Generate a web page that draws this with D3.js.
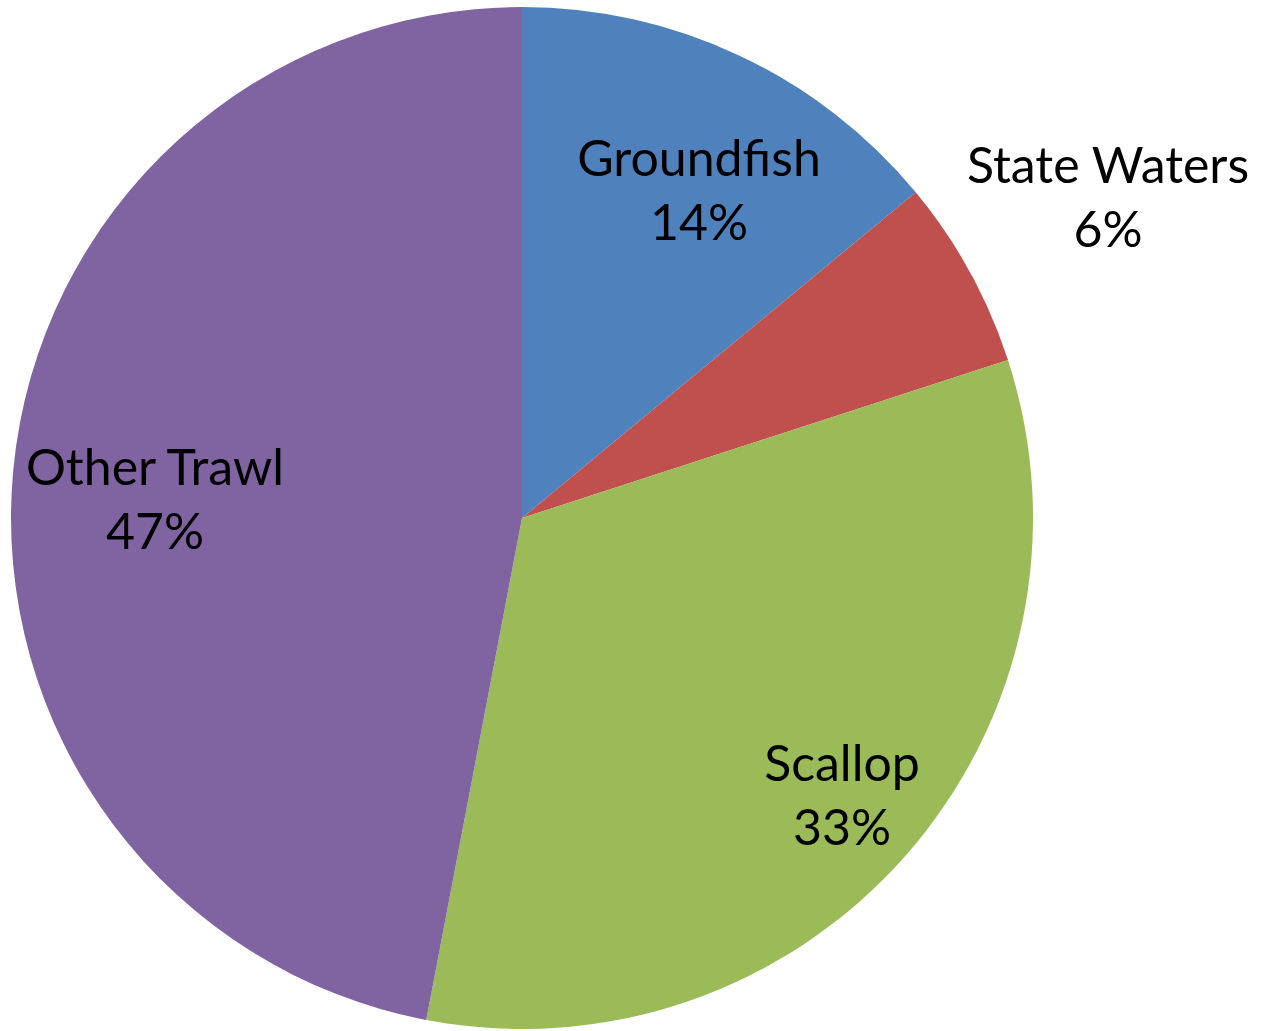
<!DOCTYPE html>
<html>
<head>
<meta charset="utf-8">
<script src="https://cdn.jsdelivr.net/npm/d3@7"></script>
<style>
  html, body { margin: 0; padding: 0; background: #fff; }
  svg { display: block; }
</style>
</head>
<body>
<svg id="chart" width="1262" height="1031"></svg>
<script>
// Share of trips by fishery
const categories = ["Groundfish", "State Waters", "Scallop", "Other Trawl"];
const shares = [14, 6, 33, 47];
const colors = ["#4F81BD", "#C0504D", "#9BBB59", "#8064A2"];

// Label anchor (centre x, first baseline y) for each slice label
const labelPos = [
  [699, 176],
  [1108, 183],
  [842, 781],
  [155, 485]
];

const svg = d3.select("#chart");
const cx = 522, cy = 518, radius = 511;

const pie = d3.pie().sort(null).value(d => d.value);
const arc = d3.arc().innerRadius(0).outerRadius(radius);

const data = categories.map((c, i) => ({ name: c, value: shares[i], color: colors[i] }));
const arcs = pie(data);

const g = svg.append("g").attr("transform", `translate(${cx},${cy})`);
g.selectAll("path")
  .data(arcs)
  .join("path")
  .attr("d", arc)
  .attr("fill", d => d.data.color);

const labels = svg.append("g")
  .attr("font-family", "Lato, 'Open Sans', sans-serif")
  .attr("font-size", 50)
  .attr("fill", "#000")
  .attr("text-anchor", "middle");

labels.selectAll("text")
  .data(arcs)
  .join("text")
  .attr("x", (d, i) => labelPos[i][0])
  .attr("y", (d, i) => labelPos[i][1])
  .each(function (d, i) {
    const t = d3.select(this);
    t.append("tspan").attr("x", labelPos[i][0]).text(d.data.name);
    t.append("tspan").attr("x", labelPos[i][0]).attr("dy", 64).text(d.data.value + "%");
  });
</script>
</body>
</html>
